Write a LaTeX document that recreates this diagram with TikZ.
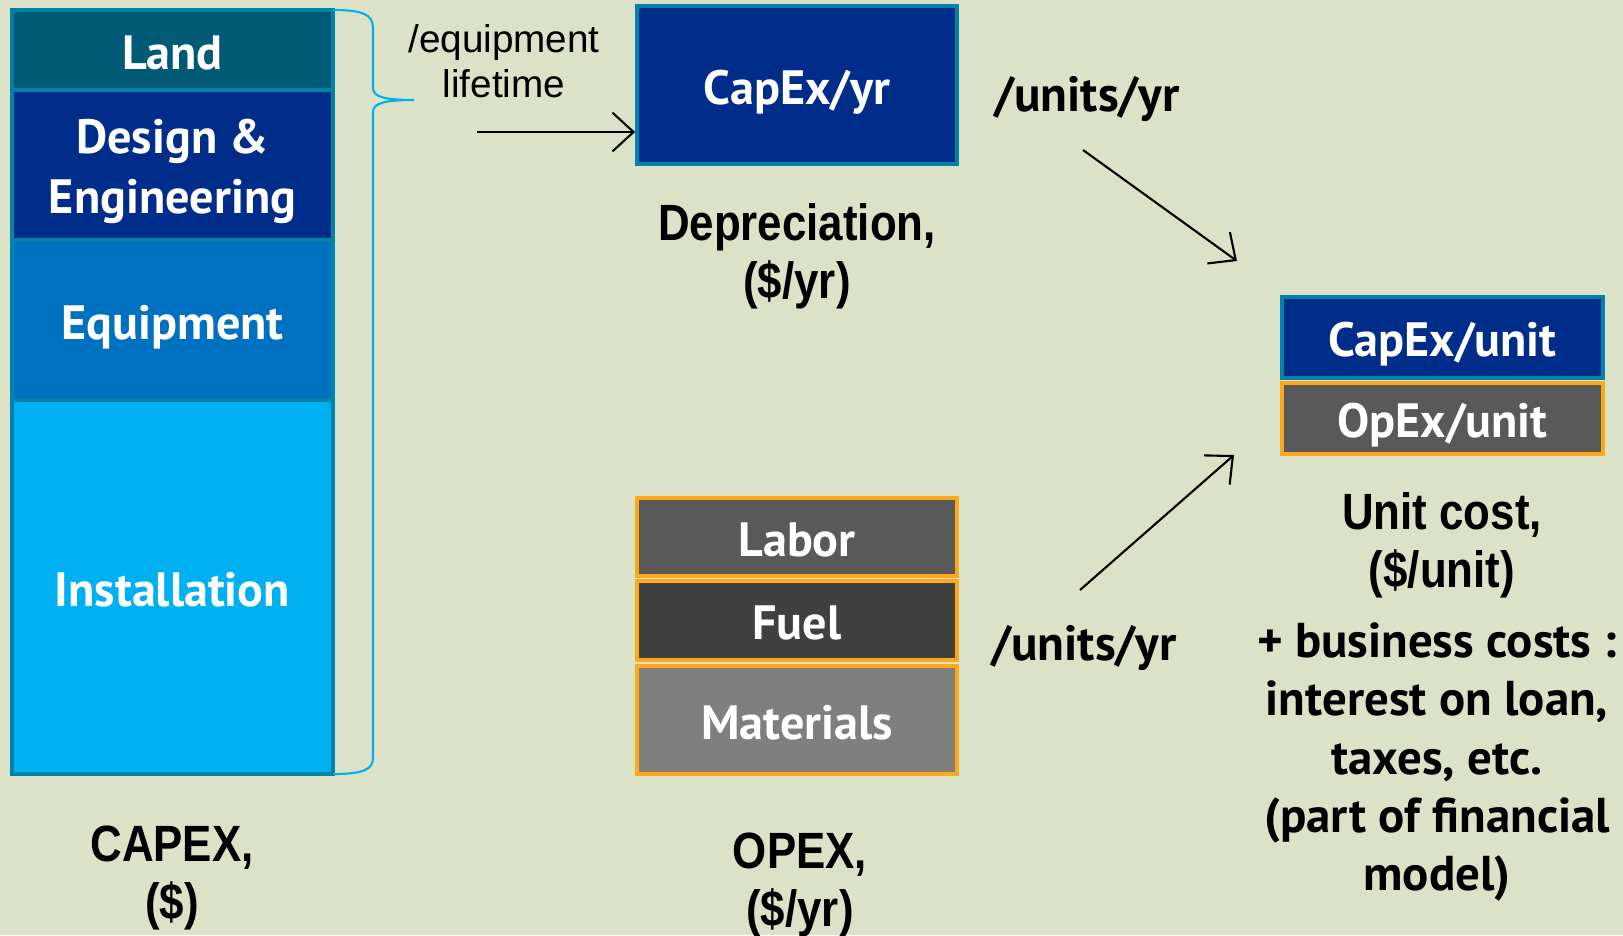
\documentclass[tikz,border=0pt]{standalone}
\usepackage{fontspec}
\usepackage{graphicx}
\usetikzlibrary{arrows.meta}
\newfontfamily\labfont{PT Sans}
\newfontfamily\plainfont{Liberation Sans}
\definecolor{bg}{RGB}{219,226,199}
\definecolor{landc}{RGB}{0,90,118}
\definecolor{designc}{RGB}{0,45,138}
\definecolor{equipc}{RGB}{0,112,192}
\definecolor{instc}{RGB}{0,176,240}
\definecolor{capborder}{RGB}{0,130,170}
\definecolor{orangeb}{RGB}{255,168,28}
\definecolor{laborc}{RGB}{89,89,89}
\definecolor{fuelc}{RGB}{64,64,64}
\definecolor{matc}{RGB}{127,127,127}
\newcommand\ctext[1]{\raisebox{-5.4pt}[0pt][0pt]{#1}}
\newcommand\ttl[1]{\scalebox{0.86}[1]{\begin{tabular}{@{}c@{}}#1\end{tabular}}}
\tikzset{
  capbox/.style={draw=capborder, line width=1pt, text=white, align=center,
    font=\labfont\bfseries\fontsize{13.7}{17}\selectfont, inner sep=0pt},
  opbox/.style={draw=orangeb, line width=1.2pt, text=white, align=center,
    font=\labfont\bfseries\fontsize{13.7}{17}\selectfont, inner sep=0pt},
  title/.style={align=center, font=\plainfont\bfseries\fontsize{14.5}{16.3}\selectfont},
  note/.style={align=center, font=\labfont\bfseries\fontsize{13.9}{16.5}\selectfont},
  conn/.style={line width=0.6pt, -{Straight Barb[length=6pt,width=11pt]}}
}
\begin{document}
\begin{tikzpicture}[x=0.01cm,y=-0.01cm]
\fill[bg] (0,0) rectangle (1623,935);
\useasboundingbox (0,0) rectangle (1623,935);
% CAPEX column
\node[capbox, fill=landc, minimum width=3.21cm, minimum height=0.80cm] (land) at (172.5,50) {\ctext{Land}};
\node[capbox, fill=designc, minimum width=3.21cm, minimum height=1.50cm] (design) at (172.5,165) {\raisebox{-13.8pt}[0pt][0pt]{\begin{tabular}[b]{@{}c@{}}Design \&\\Engineering\end{tabular}}};
\node[capbox, fill=equipc, minimum width=3.21cm, minimum height=1.60cm] (equip) at (172.5,320) {\ctext{Equipment}};
\node[capbox, fill=instc, minimum width=3.21cm, minimum height=3.74cm] (inst) at (172.5,587) {\ctext{Installation}};
\node[title] (capex) at (172,879) {\ttl{CAPEX,\\(\$)}};
% brace
\coordinate (bt) at (333,10);
\coordinate (bb) at (333,774);
\coordinate (btip) at (414,100);
\draw[instc, line width=0.6pt] (bt) .. controls (362,10) and (373,14) .. (373,28) -- (373,88)
  .. controls (373,97) and (385,100) .. (btip)
  .. controls (385,100) and (373,103) .. (373,112) -- (373,758)
  .. controls (373,770) and (362,774) .. (bb);
% lifetime
\node[align=center, font=\plainfont\fontsize{11}{12.8}\selectfont] (life) at (504,61) {/equipment\\lifetime};
\coordinate (a1s) at (477,132);
\node[capbox, fill=designc, minimum width=3.20cm, minimum height=1.58cm] (capyr) at (797,85) {\ctext{CapEx/yr}};
\draw[conn] (a1s) -- (capyr.west |- a1s);
\node[title] (dep) at (797,258) {\ttl{Depreciation,\\(\$/yr)}};
% OPEX
\node[opbox, fill=laborc, minimum width=3.20cm, minimum height=0.78cm] (labor) at (797,537) {\ctext{Labor}};
\node[opbox, fill=fuelc, minimum width=3.20cm, minimum height=0.79cm] (fuel) at (797,620.5) {\ctext{Fuel}};
\node[opbox, fill=matc, minimum width=3.20cm, minimum height=1.08cm] (mat) at (797,720) {\ctext{Materials}};
\node[title] (opex) at (800,886) {\ttl{OPEX,\\(\$/yr)}};
% units/yr
\node[note, font=\labfont\bfseries\fontsize{14}{16}\selectfont] (u1) at (1087,99) {/units/yr};
\node[note, font=\labfont\bfseries\fontsize{14}{16}\selectfont] (u2) at (1084,648) {/units/yr};
\coordinate (a2s) at (1083,150);
\coordinate (a2e) at (1237,261);
\coordinate (a3s) at (1080,590);
\coordinate (a3e) at (1234,455);
\draw[conn] (a2s) -- (a2e);
\draw[conn] (a3s) -- (a3e);
% unit cost
\node[capbox, fill=designc, minimum width=3.21cm, minimum height=0.81cm] (cu) at (1442.5,337.5) {\ctext{CapEx/unit}};
\node[opbox, fill=laborc, minimum width=3.21cm, minimum height=0.71cm] (ou) at (1442.5,418.5) {\ctext{OpEx/unit}};
\node[title] (uc) at (1442,547) {\ttl{Unit cost,\\(\$/unit)}};
\node[note] (bus) at (1437,762) {+ business costs :\\interest on loan,\\taxes, etc.\\(part of financial\\model)};
\end{tikzpicture}
\end{document}
